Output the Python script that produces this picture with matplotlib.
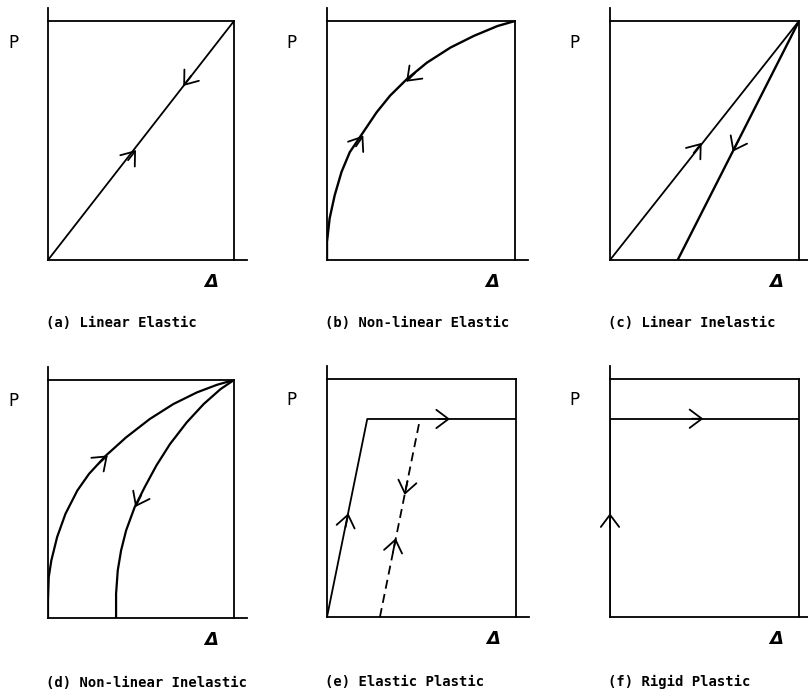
import matplotlib
matplotlib.use('Agg')
import matplotlib.pyplot as plt
import numpy as np

# P-Delta curves (Delta and P as fractions of the box)
a_x = [0, 1]
a_y = [0, 1]

b_x = [0, 0, 0.014, 0.041, 0.077, 0.121, 0.193, 0.264, 0.336, 0.425, 0.532, 0.657, 0.782, 0.907, 1]
b_y = [0, 0.076, 0.174, 0.271, 0.368, 0.451, 0.535, 0.618, 0.688, 0.757, 0.826, 0.889, 0.938, 0.979, 1]

c_load_x = [0, 1]
c_load_y = [0, 1]
c_unload_x = [0.358, 1]
c_unload_y = [0, 1]

d_load_x = [0, 0, 0.004, 0.018, 0.049, 0.094, 0.158, 0.221, 0.312, 0.420, 0.547, 0.674, 0.801, 0.909, 1]
d_load_y = [0, 0.074, 0.172, 0.242, 0.340, 0.438, 0.536, 0.606, 0.683, 0.759, 0.836, 0.899, 0.948, 0.980, 1]
d_unload_x = [0.366, 0.366, 0.375, 0.393, 0.420, 0.466, 0.520, 0.583, 0.656, 0.746, 0.837, 0.928, 1]
d_unload_y = [0, 0.102, 0.200, 0.284, 0.368, 0.466, 0.550, 0.641, 0.731, 0.822, 0.899, 0.962, 1]

e_x = [0, 0.213, 1]
e_y = [0, 0.832, 0.832]
e_unload_x = [0.28, 0.492]
e_unload_y = [0, 0.832]

f_x = [0, 0, 1]
f_y = [0, 0.833, 0.833]

captions = ['(a) Linear Elastic', '(b) Non-linear Elastic', '(c) Linear Inelastic',
            '(d) Non-linear Inelastic', '(e) Elastic Plastic', '(f) Rigid Plastic']

# arrow tips (x, y) on each curve, +1 = along the listed order, -1 = against
a_arrows = [(0.473, 0.46, 1), (0.727, 0.728, -1)]
b_arrows = [(0.193, 0.521, 1), (0.421, 0.746, -1)]
c_arrows = [(0.485, 0.49, 1)]
c_unload_arrows = [(0.649, 0.453, -1)]
d_arrows = [(0.321, 0.683, 1)]
d_unload_arrows = [(0.469, 0.466, -1)]
e_arrows = [(0.113, 0.436, 1), (0.651, 0.832, 1)]
e_unload_arrows = [(0.411, 0.513, -1), (0.364, 0.331, 1)]
f_arrows = [(0, 0.436, 1), (0.494, 0.833, 1)]

W, H = 808, 689
fig = plt.figure(figsize=(W / 100, H / 100), dpi=100)

# box pixel extents (left, right, top, bottom)
boxes = [(48, 234, 21, 260), (327, 515, 21, 260), (610, 799, 21, 260),
         (48, 234, 380, 618), (327, 516, 379, 617), (610, 799, 379, 617)]

LW = 1.3


def add_arrows(ax, xs, ys, arrows):
    xs = np.asarray(xs, float)
    ys = np.asarray(ys, float)
    for tx, ty, sgn in arrows:
        # nearest segment to the tip gives the direction
        best, bi = 1e9, 0
        for i in range(len(xs) - 1):
            p0 = np.array([xs[i], ys[i]])
            p1 = np.array([xs[i + 1], ys[i + 1]])
            v = p1 - p0
            t = np.clip(np.dot([tx, ty] - p0, v) / max(np.dot(v, v), 1e-12), 0, 1)
            dist = np.hypot(*(p0 + t * v - [tx, ty]))
            if dist < best:
                best, bi = dist, i
        v = np.array([xs[bi + 1] - xs[bi], ys[bi + 1] - ys[bi]]) * sgn
        v = v / np.hypot(*v)
        ax.annotate('', xy=(tx, ty), xytext=(tx - 0.06 * v[0], ty - 0.06 * v[1]),
                    arrowprops=dict(arrowstyle='->,head_length=0.8,head_width=0.6',
                                    color='k', lw=LW, shrinkA=0, shrinkB=0,
                                    mutation_scale=11))


axes = []
for k, (l, r, t, b) in enumerate(boxes):
    ax = fig.add_axes([l / W, 1 - b / H, (r - l) / W, (b - t) / H])
    ax.set_xlim(0, 1)
    ax.set_ylim(0, 1)
    ax.axis('off')
    # frame: axes and Pmax / Delta max lines
    ax.plot([0, 0], [0, 1.055], color='k', lw=LW, clip_on=False)
    ax.plot([0, 1.07], [0, 0], color='k', lw=LW, clip_on=False)
    ax.plot([0, 1], [1, 1], color='k', lw=LW, clip_on=False)
    ax.plot([1, 1], [0, 1], color='k', lw=LW, clip_on=False)
    ax.text(-0.188, 0.91, 'P', ha='center', va='center', fontsize=12)
    ax.text(0.878, -0.092, 'Δ', ha='center', va='center', fontsize=13,
            style='italic', fontweight='bold')
    cy = -0.262 if k < 3 else -0.272
    ax.text(-0.01, cy, captions[k], ha='left', va='center', fontsize=10,
            family='DejaVu Sans Mono', fontweight='bold')
    axes.append(ax)

ax = axes[0]
ax.plot(a_x, a_y, color='k', lw=LW)
add_arrows(ax, a_x, a_y, a_arrows)

ax = axes[1]
ax.plot(b_x, b_y, color='k', lw=1.7)
add_arrows(ax, b_x, b_y, b_arrows)

ax = axes[2]
ax.plot(c_load_x, c_load_y, color='k', lw=LW)
ax.plot(c_unload_x, c_unload_y, color='k', lw=1.7)
add_arrows(ax, c_load_x, c_load_y, c_arrows)
add_arrows(ax, c_unload_x, c_unload_y, c_unload_arrows)

ax = axes[3]
ax.plot(d_load_x, d_load_y, color='k', lw=1.6)
ax.plot(d_unload_x, d_unload_y, color='k', lw=1.6)
add_arrows(ax, d_load_x, d_load_y, d_arrows)
add_arrows(ax, d_unload_x, d_unload_y, d_unload_arrows)

ax = axes[4]
ax.plot(e_x, e_y, color='k', lw=LW)
ax.plot(e_unload_x, e_unload_y, color='k', lw=LW, ls=(0, (5, 3)))
add_arrows(ax, e_x, e_y, e_arrows)
add_arrows(ax, e_unload_x, e_unload_y, e_unload_arrows)

ax = axes[5]
ax.plot(f_x, f_y, color='k', lw=LW)
add_arrows(ax, f_x, f_y, f_arrows)

fig.savefig('out.png', dpi=100)
